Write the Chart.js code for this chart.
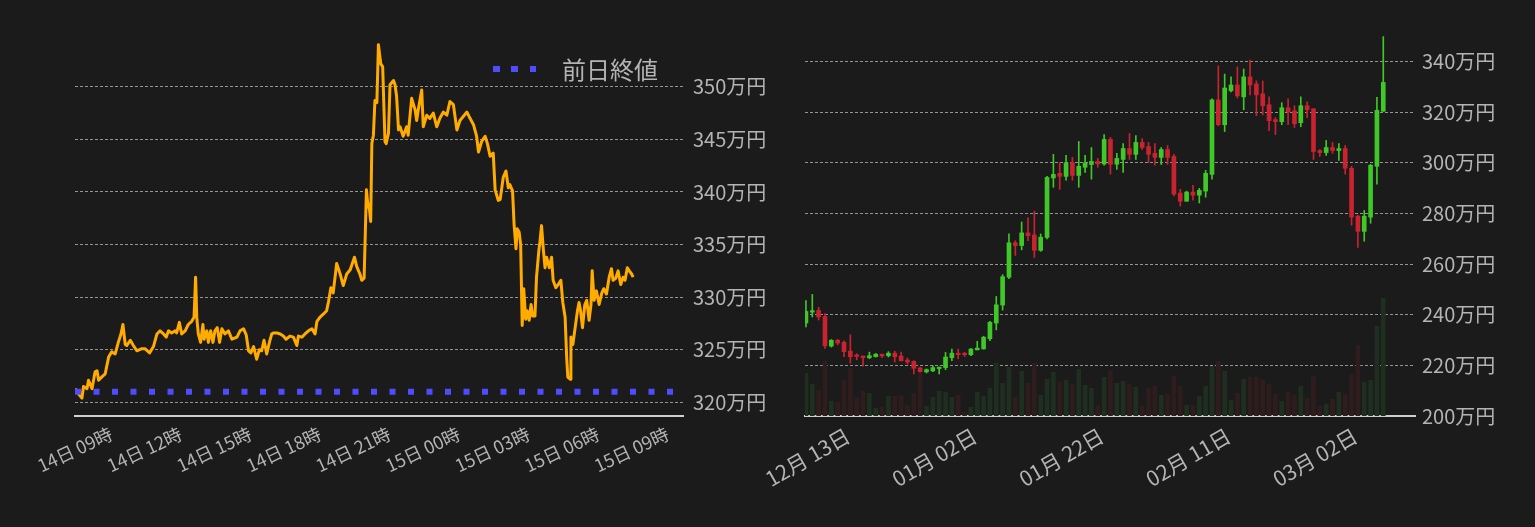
<!DOCTYPE html>
<html>
<head>
<meta charset="utf-8">
<script src="https://cdn.jsdelivr.net/npm/chart.js@4/dist/chart.umd.min.js"></script>
<style>
  body { margin: 0; background: #1b1b1b; width: 1535px; height: 527px; overflow: hidden; position: relative; }
  canvas { position: absolute; top: 0; }
  #lineChart { left: 0; }
  #candleChart { left: 740px; }
  #legend { position: absolute; left: 493px; top: 55px; display: flex; align-items: center;
            color: #b4b4b4; font: 24px 'Noto Sans CJK JP', sans-serif; line-height: 28px; }
  #legend .sq { width: 6.5px; height: 6.5px; background: #4d4dff; margin-right: 11.8px; }
  #legend .sq:nth-child(3) { margin-right: 26px; }
</style>
</head>
<body>
<canvas id="lineChart" width="775" height="527"></canvas>
<canvas id="candleChart" width="795" height="527"></canvas>
<div id="legend"><span class="sq"></span><span class="sq"></span><span class="sq"></span><span>前日終値</span></div>
<script>
const FONT = "'Noto Sans CJK JP', 'Noto Sans', sans-serif";
const TEXT = '#b4b4b4';

// ---- left: intraday price (minutes from 14日 00:00) ----
const sessionStart = 462, sessionEnd = 2035;
const prevClose = 321.0;
const minutes = [462,471,480,484,493,497,506,514,519,523,531,540,549,557,566,574,581,586,592,596,
  605,613,622,635,643,655,665,674,682,691,698,704,712,721,725,732,738,747,755,764,
  770,774,777,781,787,793,796,803,807,813,819,824,830,836,842,850,859,868,881,889,
  898,905,911,917,924,932,939,945,951,958,965,971,975,984,993,1001,1008,1018,1027,1036,
  1040,1049,1057,1066,1075,1083,1088,1096,1105,1113,1118,1124,1130,1139,1148,1156,1165,1174,1185,1191,
  1199,1204,1210,1213,1216,1219,1224,1227,1230,1234,1238,1243,1247,1253,1258,1264,1267,1273,1277,1286,
  1290,1294,1299,1303,1311,1320,1324,1333,1342,1346,1350,1359,1363,1372,1380,1389,1398,1406,1415,1424,
  1432,1441,1450,1458,1467,1476,1484,1493,1501,1506,1514,1523,1529,1536,1544,1549,1557,1562,1570,1577,
  1583,1587,1594,1598,1603,1606,1611,1615,1619,1623,1628,1632,1637,1642,1646,1652,1656,1662,1665,1669,
  1674,1678,1682,1689,1695,1699,1706,1712,1719,1724,1730,1734,1737,1743,1745,1750,1756,1762,1766,1770,
  1775,1781,1786,1792,1797,1800,1805,1811,1818,1825,1830,1837,1844,1850,1854,1861,1867,1874,1880,1885,
  1891,1896,1902,1906];
const prices = [321.3,320.8,320.4,321.5,321.3,322.1,321.3,322.9,323.0,322.1,322.4,322.7,324.3,324.8,324.6,325.7,326.5,327.4,325.5,325.4,
  325.9,325.4,324.9,325.1,325.1,324.7,325.3,326.5,326.8,326.5,326.2,326.8,326.6,326.8,326.6,327.6,326.5,326.8,327.4,327.7,
  328.1,331.9,328.1,326.5,325.7,327.4,326.0,326.8,325.7,326.8,325.7,326.8,327.1,325.7,327.0,326.5,326.8,326.0,326.2,326.8,
  327.0,326.4,324.9,324.7,325.3,324.1,325.0,324.9,325.9,324.6,325.7,326.5,326.6,326.6,326.5,326.3,326.0,326.3,326.2,325.4,
  326.3,326.2,326.5,326.8,327.0,326.5,327.7,328.1,328.4,328.7,329.6,330.9,330.4,333.2,332.2,331.1,332.2,332.6,333.8,332.9,
  332.2,331.6,331.8,336.0,340.2,339.0,338.3,337.2,344.6,345.4,348.7,348.5,354.0,352.2,351.9,344.8,344.6,345.6,350.2,350.6,
  350.2,349.1,345.9,346.2,345.3,346.2,345.4,348.9,347.8,346.8,347.8,349.7,346.2,347.3,347.0,347.5,346.2,347.0,347.6,347.3,
  348.6,348.3,345.9,346.8,347.2,347.6,347.0,346.4,345.3,343.8,344.8,345.3,344.6,343.4,343.7,340.2,339.2,339.3,341.4,342.0,
  340.4,340.7,340.1,336.9,334.6,336.5,336.2,335.0,327.3,330.8,327.9,328.7,327.8,329.3,328.2,328.2,331.9,334.4,335.3,336.8,
  334.4,332.8,333.8,332.8,333.8,331.6,330.9,331.2,331.6,329.5,328.1,324.3,322.4,322.2,326.2,325.5,327.1,328.7,329.5,328.7,
  327.1,329.3,329.7,327.8,329.3,332.5,329.7,330.6,329.3,330.4,330.8,330.3,331.9,332.7,331.6,331.8,332.5,331.2,331.9,331.6,
  332.8,332.5,332.2,331.9];
const timeTickMinutes = [540, 720, 900, 1080, 1260, 1440, 1620, 1800, 1980];
const timeTickLabels = ['14日 09時','14日 12時','14日 15時','14日 18時','14日 21時','15日 00時','15日 03時','15日 06時','15日 09時'];
const priceTicksL = [320, 325, 330, 335, 340, 345, 350];

// ---- right: daily candles ----
const opens  = [236.7,241.0,241.7,239.3,227.6,229.9,229.1,225.6,223.8,223.7,223.0,223.4,224.4,223.8,224.8,223.7,222.1,221.6,219.0,217.4,
  217.8,218.7,219.1,223.0,224.8,224.4,224.2,226.1,226.5,230.5,236.7,243.8,254.8,268.4,267.3,272.3,271.5,265.4,270.5,294.0,
  295.8,294.6,300.0,295.0,298.2,299.3,300.5,299.5,309.2,299.4,301.3,305.6,303.3,308.0,306.4,303.7,302.1,305.2,302.5,288.0,
  284.8,288.4,287.2,288.8,295.4,324.8,315.0,328.4,330.7,326.0,333.9,331.1,327.2,322.9,317.0,316.2,321.7,320.5,315.8,322.5,
  321.3,304.8,304.0,306.0,304.8,305.6,297.8,278.9,272.9,278.5,298.6,320.3];
const highs  = [245.6,248.0,242.9,240.4,230.2,230.3,229.7,232.1,224.6,223.7,225.2,224.7,224.4,225.4,225.6,225.2,222.9,221.8,219.1,218.6,
  219.9,219.3,225.1,226.4,226.4,225.1,226.7,229.5,231.5,237.4,247.2,255.8,271.9,269.2,276.6,278.2,280.9,271.9,294.6,303.3,
  300.0,302.9,302.1,308.4,302.9,306.0,301.7,311.1,310.0,303.7,307.6,311.5,310.7,309.5,308.0,307.6,306.0,306.8,303.3,289.5,
  288.8,291.1,289.9,297.0,325.2,338.2,335.0,333.9,337.8,337.0,340.5,332.3,332.3,326.0,317.8,323.7,325.2,322.5,326.0,324.0,
  321.3,305.2,308.8,308.0,307.6,306.8,298.6,279.3,281.2,299.4,325.8,349.8];
const lows   = [235.2,239.1,237.9,226.7,227.2,228.1,223.4,220.9,222.2,219.7,222.6,223.3,223.0,223.3,221.3,221.7,220.5,216.6,217.3,217.0,
  217.5,216.6,218.3,221.8,222.6,223.5,223.8,226.1,226.4,229.7,234.0,241.8,254.2,263.4,265.6,269.2,262.6,265.0,269.9,290.3,
  289.5,293.1,293.1,290.3,296.2,293.5,298.2,299.0,295.5,297.4,296.2,301.3,301.3,305.2,300.1,299.0,299.3,299.3,286.9,282.9,
  284.8,285.2,284.1,286.4,293.5,314.6,312.3,328.0,325.6,320.9,326.8,318.6,318.9,312.7,311.1,315.0,315.0,313.9,314.2,317.8,
  301.3,302.5,302.9,303.7,300.9,295.5,275.3,266.6,269.0,276.1,291.5,320.3];
const closes = [241.3,241.6,239.1,227.7,229.9,228.8,225.4,223.4,223.5,223.0,223.8,224.4,223.7,224.8,223.4,221.8,221.3,218.8,217.5,218.3,
  219.1,219.3,223.3,224.8,224.2,224.2,226.4,226.8,231.1,237.0,243.9,255.0,268.4,267.3,272.3,271.2,265.4,270.6,294.2,295.4,
  294.6,300.0,295.0,298.6,299.9,300.5,299.5,309.2,299.4,301.7,305.6,303.3,308.0,306.0,303.3,302.1,305.2,302.1,287.6,284.8,
  288.4,287.2,289.1,295.8,324.8,315.0,329.5,330.7,326.4,333.9,330.7,326.8,322.5,316.6,316.2,321.7,320.1,315.4,322.5,320.9,
  304.4,304.0,306.0,304.8,305.6,297.8,278.5,272.9,278.9,299.0,320.7,331.7];
const volumes = [128,95,77,164,44,42,107,144,54,74,68,23,26,59,59,61,31,68,128,29,
  56,74,71,56,62,11,26,71,59,83,158,98,146,56,134,98,158,62,110,131,
  101,107,95,140,92,83,32,116,137,98,104,95,86,29,83,89,62,65,119,89,
  32,32,59,89,149,164,134,47,68,110,116,116,107,95,65,44,71,62,89,53,
  119,29,35,50,71,65,125,212,101,107,269,353];
const dayTickIndex = [6, 26, 46, 66, 86];
const dayTickLabels = ['12月 13日','01月 02日','01月 22日','02月 11日','03月 02日'];
const priceTicksR = [200, 220, 240, 260, 280, 300, 320, 340];

Chart.defaults.font.family = FONT;
Chart.defaults.color = TEXT;
Chart.defaults.animation = false;

const gridStyle = { color: 'rgba(200,200,200,0.7)', lineWidth: 1, drawTicks: false };

// left chart
new Chart(document.getElementById('lineChart'), {
  type: 'line',
  data: {
    datasets: [
      {
        label: '前日終値',
        data: [{ x: sessionStart, y: prevClose }, { x: sessionEnd, y: prevClose }],
        borderColor: '#4d4dff',
        borderWidth: 6,
        borderDash: [6, 12.5],
        pointRadius: 0
      },
      {
        label: '価格',
        data: minutes.map((m, i) => ({ x: m, y: prices[i] })),
        borderColor: '#ffab00',
        borderWidth: 3,
        borderJoinStyle: 'round',
        pointRadius: 0,
        tension: 0
      }
    ]
  },
  options: {
    responsive: false,
    layout: { padding: { left: 75, top: 30, right: 0, bottom: 0 } },
    plugins: { legend: { display: false }, tooltip: { enabled: false } },
    scales: {
      x: {
        type: 'linear',
        min: sessionStart,
        max: sessionEnd,
        grid: { display: false, drawTicks: false },
        border: { display: true, color: '#d0d0d0', width: 2 },
        afterBuildTicks: s => { s.ticks = timeTickMinutes.map(v => ({ value: v })); },
        afterFit: s => { s.height = 111; },
        ticks: {
          color: TEXT, font: { size: 18 }, minRotation: 25, maxRotation: 25, autoSkip: false,
          padding: 7, labelOffset: 6,
          callback: v => timeTickLabels[timeTickMinutes.indexOf(v)]
        }
      },
      y: {
        position: 'right',
        min: 318.7,
        max: 355.4,
        grid: gridStyle,
        border: { display: false, dash: [3, 2] },
        afterBuildTicks: s => { s.ticks = priceTicksL.map(v => ({ value: v })); },
        afterFit: s => { s.width = 92; },
        ticks: { color: TEXT, font: { size: 20 }, padding: 10, callback: v => v + '万円' }
      }
    }
  }
});

// right chart: candles as floating bars + volume
const GREEN = '#3fc827', RED = '#c8232f';
const candleColors = closes.map((c, i) => c >= opens[i] ? GREEN : RED);
const volColors = closes.map((c, i) => c >= opens[i] ? '#1f2f1f' : '#2f1d1e');

new Chart(document.getElementById('candleChart'), {
  type: 'bar',
  data: {
    datasets: [
      {
        label: 'body',
        data: opens.map((o, i) => ({ x: i, y: [o, closes[i]] })),
        backgroundColor: candleColors,
        barThickness: 4,
        minBarLength: 1.5,
        grouped: false,
        yAxisID: 'y'
      },
      {
        label: 'wick',
        data: lows.map((l, i) => ({ x: i, y: [l, highs[i]] })),
        backgroundColor: candleColors,
        barThickness: 1,
        grouped: false,
        yAxisID: 'y'
      },
      {
        label: 'volume',
        data: volumes.map((v, i) => ({ x: i, y: v })),
        backgroundColor: volColors,
        barThickness: 4,
        grouped: false,
        yAxisID: 'yv'
      }
    ]
  },
  options: {
    responsive: false,
    layout: { padding: { left: 65, top: 30, right: 0, bottom: 0 } },
    plugins: { legend: { display: false }, tooltip: { enabled: false } },
    scales: {
      x: {
        type: 'linear',
        offset: false,
        min: -0.15,
        max: 96,
        grid: { display: false, drawTicks: false },
        border: { display: true, color: '#d0d0d0', width: 2 },
        afterBuildTicks: s => { s.ticks = dayTickIndex.map(v => ({ value: v })); },
        afterFit: s => { s.height = 111; },
        ticks: {
          color: TEXT, font: { size: 21 }, minRotation: 30, maxRotation: 30, autoSkip: false,
          padding: 7, labelOffset: 4,
          callback: v => dayTickLabels[dayTickIndex.indexOf(v)]
        }
      },
      y: {
        position: 'right',
        min: 200,
        max: 352.4,
        grid: gridStyle,
        border: { display: false, dash: [3, 2] },
        afterBuildTicks: s => { s.ticks = priceTicksR.map(v => ({ value: v })); },
        afterFit: s => { s.width = 120; },
        ticks: { color: TEXT, font: { size: 20 }, padding: 7, callback: v => v + '万円' }
      },
      yv: {
        display: false,
        min: 0,
        max: 1158
      }
    }
  }
});
</script>
</body>
</html>
